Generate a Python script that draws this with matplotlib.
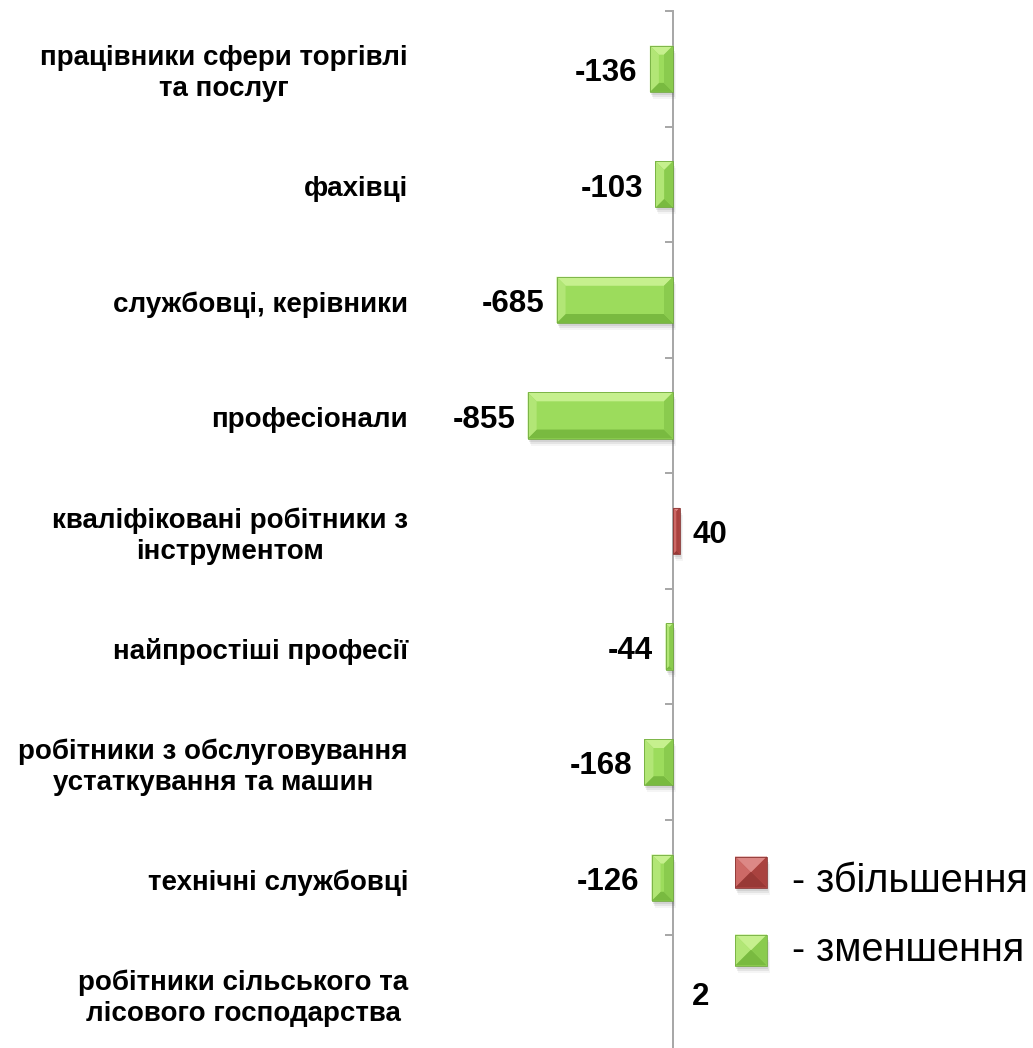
import matplotlib.pyplot as plt
from matplotlib.patches import Polygon, Rectangle
from matplotlib.transforms import IdentityTransform, blended_transform_factory, offset_copy

plt.rcParams['font.family'] = ['Liberation Sans', 'DejaVu Sans']

# --- data (top to bottom) ---
categories = [
    'працівники сфери торгівлі\nта послуг',
    'фахівці',
    'службовці, керівники',
    'професіонали',
    'кваліфіковані робітники з\nінструментом',
    'найпростіші професії',
    'робітники з обслуговування\nустаткування та машин',
    'технічні службовці',
    'робітники сільського та\nлісового господарства',
]
values = [-136, -103, -685, -855, 40, -44, -168, -126, 2]
legend_labels = ['- збільшення', '- зменшення']

GREEN = dict(face='#9cdc5c', top='#c6f08e', bottom='#79ba40', left='#b2e676',
             right='#8acb4e', edge='#72ac3e')
RED = dict(face='#c0504d', top='#dc8886', bottom='#983936', left='#cd6966',
           right='#a9423f', edge='#8a3533')

W, H = 1033, 1048
fig = plt.figure(figsize=(W / 100, H / 100), dpi=100)

# axes placed so that the zero line sits at x=673px, top tick at y=11px
ax_left, ax_right = 420, 720
ax_top, ax_bot = 11, 1051
ax = fig.add_axes([ax_left / W, (H - ax_bot) / H,
                   (ax_right - ax_left) / W, (ax_bot - ax_top) / H])
ax.set_facecolor('none')
scale = 0.17  # px per unit
ax.set_xlim(-(673 - ax_left) / scale, (ax_right - 673) / scale)

n = len(categories)
ypos = [n - 1 - i for i in range(n)]
ax.set_ylim(-0.5, n - 0.5)

colors = [RED['face'] if v > 0 else GREEN['face'] for v in values]
bars = ax.barh(ypos, values, height=0.4, color=colors, zorder=2)

for s in ['top', 'right', 'bottom']:
    ax.spines[s].set_visible(False)
ax.spines['left'].set_position(('data', 0))
ax.spines['left'].set_color('#a6a6a6')
ax.spines['left'].set_linewidth(1.4)
ax.set_xticks([])
ax.set_yticks([y - 0.5 for y in range(n + 1)])
ax.set_yticklabels([])
ax.tick_params(axis='y', direction='out', length=6, width=1.4, color='#a6a6a6')

ident = IdentityTransform()


def bevel_box(x0, y0, x1, y1, pal, b, z, shadow=True):
    """beveled rectangle in display pixels"""
    w, h = x1 - x0, y1 - y0
    b = min(b, w / 2, h / 2)
    if shadow:
        for dx, dy, a in [(1, -3, 0.12), (2, -5, 0.10), (3, -7, 0.06)]:
            fig.add_artist(Rectangle((x0 + dx, y0 + dy), w, h, transform=ident,
                                     facecolor='#555555', edgecolor='none',
                                     alpha=a, zorder=z - 1))
    fig.add_artist(Rectangle((x0, y0), w, h, transform=ident,
                             facecolor=pal['face'], edgecolor='none', zorder=z))
    polys = [
        ([(x0, y1), (x1, y1), (x1 - b, y1 - b), (x0 + b, y1 - b)], pal['top']),
        ([(x0, y0), (x1, y0), (x1 - b, y0 + b), (x0 + b, y0 + b)], pal['bottom']),
        ([(x0, y0), (x0 + b, y0 + b), (x0 + b, y1 - b), (x0, y1)], pal['left']),
        ([(x1, y0), (x1 - b, y0 + b), (x1 - b, y1 - b), (x1, y1)], pal['right']),
    ]
    for pts, c in polys:
        fig.add_artist(Polygon(pts, closed=True, transform=ident, facecolor=c,
                               edgecolor='none', zorder=z + 0.1))
    fig.add_artist(Rectangle((x0, y0), w, h, transform=ident, facecolor='none',
                             edgecolor=pal['edge'], linewidth=0.6, zorder=z + 0.2))


# overlay bevel look on each bar, using the bar's own extent
for bar, v in zip(bars, values):
    xa, ya = ax.transData.transform((bar.get_x(), bar.get_y()))
    xb, yb = ax.transData.transform((bar.get_x() + bar.get_width(),
                                     bar.get_y() + bar.get_height()))
    x0, x1 = sorted([xa, xb])
    y0, y1 = sorted([ya, yb])
    if x1 - x0 < 1:
        continue
    bevel_box(x0, y0, x1, y1, RED if v > 0 else GREEN, 9, 3)

# value labels
for y, v in zip(ypos, values):
    off = 9 if v > 0 else -9
    if v > 0 and v < 10:
        off = 13
    ax.annotate(f'{v}', (v, y), xytext=(off, -3), textcoords='offset points',
                ha='left' if v > 0 else 'right', va='center',
                fontsize=22.5, fontweight='bold', color='black', zorder=5)

# category labels
tr = offset_copy(blended_transform_factory(fig.transFigure, ax.transData),
                 fig=fig, y=-5, units='dots')
for y, c in zip(ypos, categories):
    ax.text(408 / W, y, c, transform=tr, ha='right', va='center',
            multialignment='center', fontsize=20, fontweight='bold',
            linespacing=1.25, color='black')

# legend
leg_items = [(RED, 872, 892), (GREEN, 950, 961)]
for (pal, yc, yb), lab in zip(leg_items, legend_labels):
    yd = H - yc
    bevel_box(735, yd - 15.5, 767, yd + 15.5, pal, 16, 3, shadow=True)
    fig.text(792 / W, (H - yb) / H, lab, ha='left', va='baseline',
             fontsize=28.5, color='black')

fig.savefig('out.png', dpi=100)
